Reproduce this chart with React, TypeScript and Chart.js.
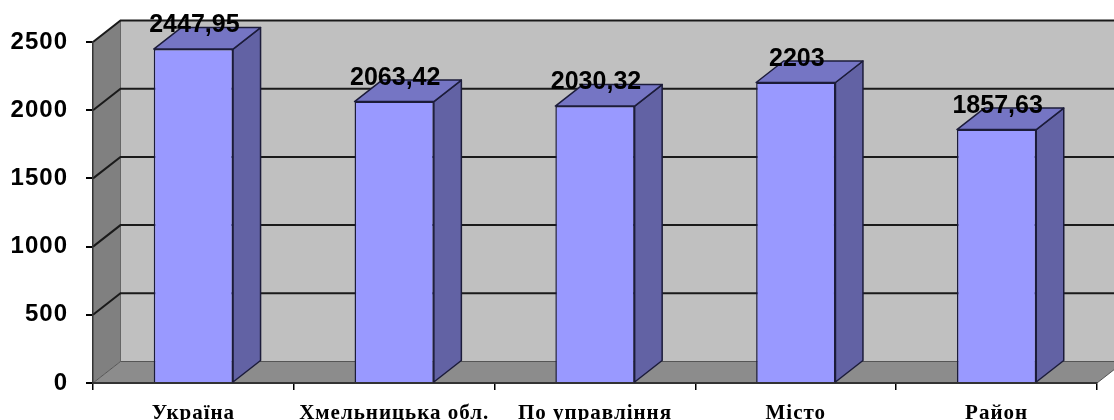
import React, { useEffect, useRef } from "react";
import { Chart, registerables } from "chart.js";

Chart.register(...registerables);

const categories = ["Україна", "Хмельницька обл.", "По управління", "Місто", "Район"];
const values = [2447.95, 2063.42, 2030.32, 2203, 1857.63];
const valueLabels = ["2447,95", "2063,42", "2030,32", "2203", "1857,63"];
const yTicks = [0, 500, 1000, 1500, 2000, 2500];

const DX = 27.5;
const DY = 21.5;

const threeD = {
  id: "threeD",
  beforeDraw(chart: any) {
    const { ctx, chartArea } = chart;
    const ys = chart.scales.y;
    const left = chartArea.left;
    const right = chartArea.right;
    const y0 = ys.getPixelForValue(0);
    const yTop = ys.getPixelForValue(2500);
    const farRight = right + DX + 40;
    ctx.save();
    ctx.fillStyle = "#C0C0C0";
    ctx.fillRect(left + DX, yTop - DY, farRight - (left + DX), y0 - yTop);
    ctx.fillStyle = "#8C8C8C";
    ctx.beginPath();
    ctx.moveTo(left, y0);
    ctx.lineTo(right, y0);
    ctx.lineTo(right + DX, y0 - DY);
    ctx.lineTo(farRight, y0 - DY);
    ctx.lineTo(left + DX, y0 - DY);
    ctx.closePath();
    ctx.fill();
    ctx.strokeStyle = "#555";
    ctx.lineWidth = 1;
    ctx.beginPath();
    ctx.moveTo(right, y0);
    ctx.lineTo(right + DX, y0 - DY);
    ctx.stroke();
    ctx.fillStyle = "#808080";
    ctx.beginPath();
    ctx.moveTo(left, yTop);
    ctx.lineTo(left + DX, yTop - DY);
    ctx.lineTo(left + DX, y0 - DY);
    ctx.lineTo(left, y0);
    ctx.closePath();
    ctx.fill();
    ctx.strokeStyle = "#666";
    ctx.beginPath();
    ctx.moveTo(left + DX, yTop - DY);
    ctx.lineTo(left + DX, y0 - DY);
    ctx.stroke();
    yTicks.forEach((v) => {
      const y = ys.getPixelForValue(v);
      ctx.beginPath();
      ctx.moveTo(left, y);
      ctx.lineTo(left + DX, y - DY);
      ctx.lineTo(farRight, y - DY);
      if (v === 0) {
        ctx.strokeStyle = "#555";
        ctx.lineWidth = 1;
      } else {
        ctx.strokeStyle = "#1a1a1a";
        ctx.lineWidth = 2;
      }
      ctx.stroke();
    });
    ctx.restore();
    ctx.letterSpacing = "1px";
  },
  afterDatasetsDraw(chart: any) {
    const { ctx } = chart;
    const meta = chart.getDatasetMeta(0);
    ctx.save();
    ctx.letterSpacing = "0px";
    ctx.lineWidth = 1.5;
    ctx.strokeStyle = "#1c1c3a";
    ctx.lineJoin = "round";
    meta.data.forEach((bar: any) => {
      const { x, y, base, width } = bar.getProps(["x", "y", "base", "width"], true);
      const l = x - width / 2;
      const r = x + width / 2;
      ctx.fillStyle = "#6262A4";
      ctx.beginPath();
      ctx.moveTo(r, y);
      ctx.lineTo(r + DX, y - DY);
      ctx.lineTo(r + DX, base - DY);
      ctx.lineTo(r, base);
      ctx.closePath();
      ctx.fill();
      ctx.stroke();
      ctx.fillStyle = "#7575C4";
      ctx.beginPath();
      ctx.moveTo(l, y);
      ctx.lineTo(l + DX, y - DY);
      ctx.lineTo(r + DX, y - DY);
      ctx.lineTo(r, y);
      ctx.closePath();
      ctx.fill();
      ctx.stroke();
    });
    ctx.fillStyle = "#000";
    ctx.font = "bold 25px 'Liberation Sans', Arial, sans-serif";
    ctx.textAlign = "center";
    ctx.textBaseline = "alphabetic";
    meta.data.forEach((bar: any, i: number) => {
      const { x, y } = bar.getProps(["x", "y"], true);
      ctx.fillText(valueLabels[i], x + 1, y - 17);
    });
    ctx.restore();
  },
};

export default function App() {
  const ref = useRef<HTMLCanvasElement>(null);
  useEffect(() => {
    if (!ref.current) return;
    const chart = new Chart(ref.current, {
      type: "bar",
      data: {
        labels: categories,
        datasets: [
          {
            data: values,
            backgroundColor: "#9999FF",
            borderColor: "#1c1c3a",
            borderWidth: 1.5,
            categoryPercentage: 1,
            barPercentage: 0.395,
            clip: false as any,
          },
        ],
      },
      options: {
        responsive: false,
        animation: false,
        devicePixelRatio: 1,
        layout: { padding: { top: 42, right: 17, left: 0, bottom: 0 } },
        plugins: { legend: { display: false }, tooltip: { enabled: false }, title: { display: false } },
        scales: {
          x: {
            afterFit: (s: any) => {
              s.height = 37;
            },
            border: { display: true, color: "#333", width: 2 },
            grid: {
              display: true,
              offset: true,
              drawOnChartArea: false,
              drawTicks: true,
              tickLength: 7,
              color: "#000",
              lineWidth: 1.5,
            },
            ticks: {
              color: "#000",
              padding: 11,
              maxRotation: 0,
              autoSkip: false,
              font: { family: "'Liberation Serif', 'Times New Roman', serif", size: 21, weight: "bold" },
            },
          },
          y: {
            min: 0,
            max: 2500,
            afterFit: (s: any) => {
              s.width = 93;
            },
            border: { display: true, color: "#333", width: 1.5 },
            grid: {
              display: true,
              drawOnChartArea: false,
              drawTicks: true,
              tickLength: 7,
              color: "#000",
              lineWidth: 2,
            },
            ticks: {
              stepSize: 500,
              color: "#000",
              padding: 18,
              callback: (v: any) => String(v),
              font: { family: "'Liberation Sans', Arial, sans-serif", size: 24, weight: "bold" },
            },
          },
        },
      },
      plugins: [threeD],
    });
    return () => chart.destroy();
  }, []);
  return (
    <div style={{ position: "absolute", left: 0, top: 0, width: 1114, height: 420, background: "#fff" }}>
      <canvas ref={ref} width={1114} height={420} />
    </div>
  );
}
